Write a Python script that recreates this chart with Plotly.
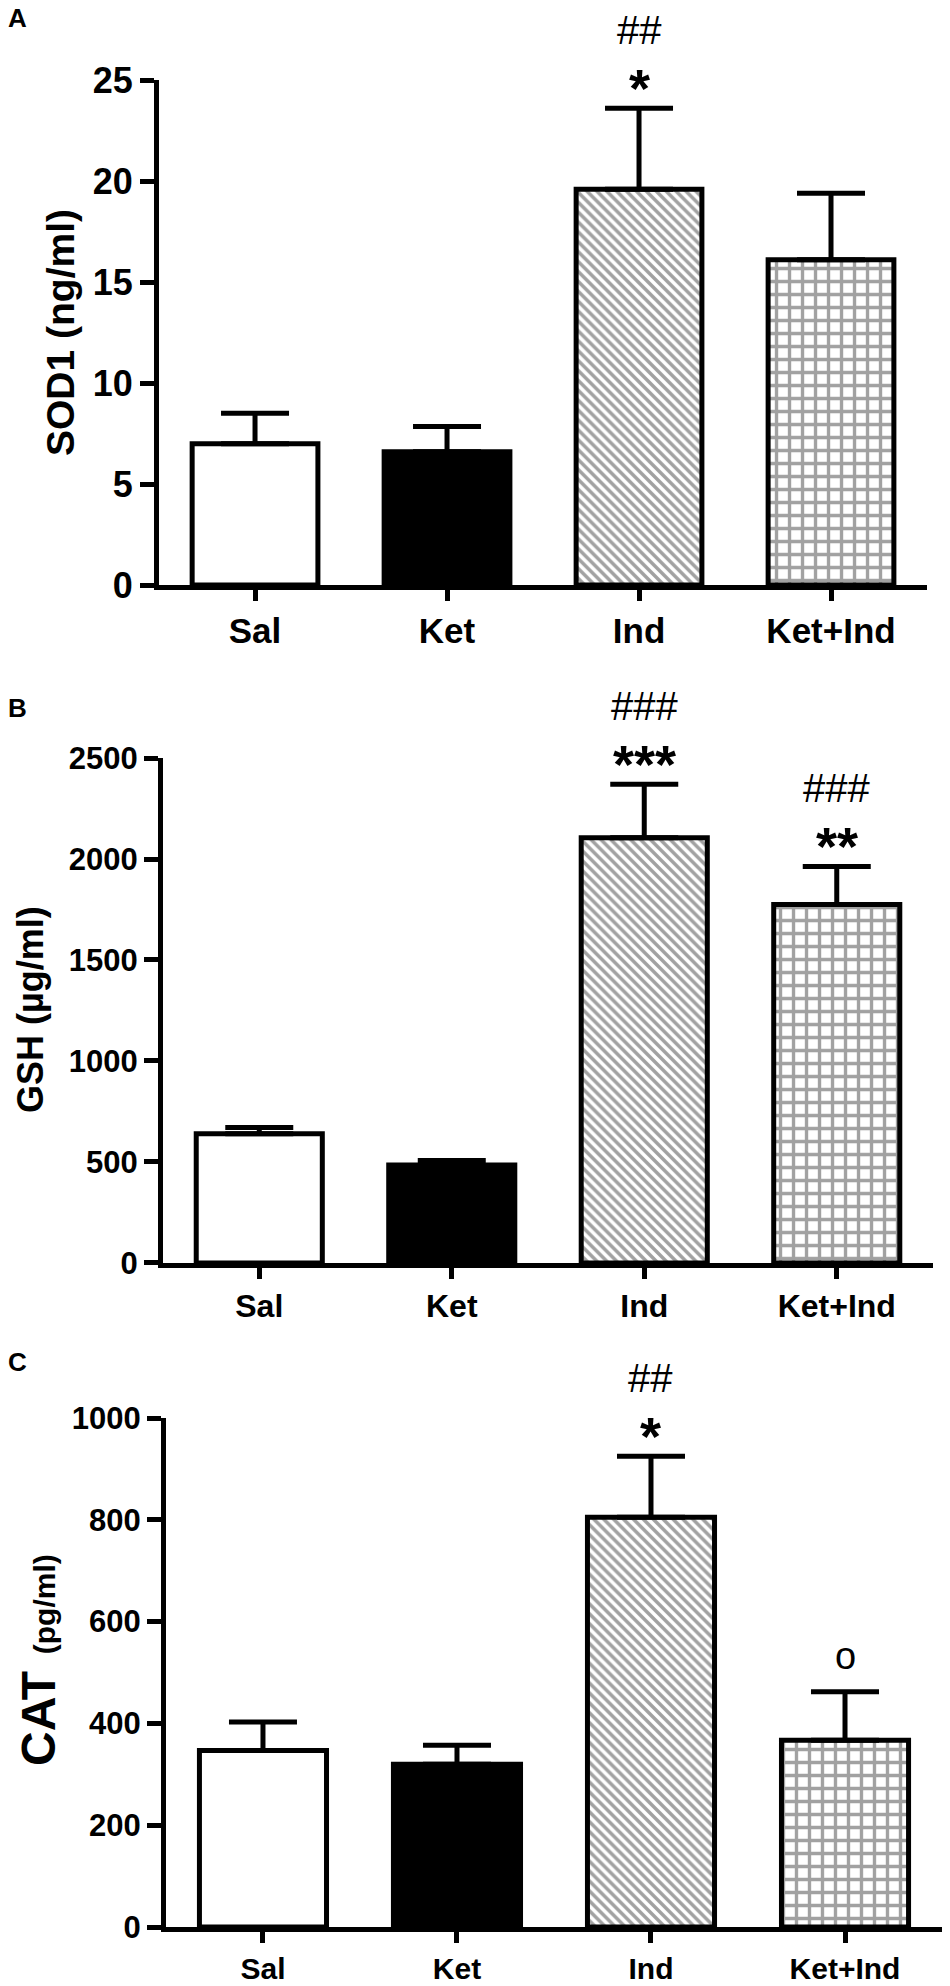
import plotly.graph_objects as go

# Group names on the x axis.
groups = ["Sal", "Ket", "Ind", "Ket+Ind"]

# Panel A: SOD1 (ng/ml), mean and upper error.
sod1_mean = [7.0, 6.6, 19.6, 16.1]
sod1_err = [1.5, 1.25, 4.0, 3.3]
sod1_star = ["", "", "*", ""]
sod1_hash = ["", "", "##", ""]

# Panel B: GSH (µg/ml).
gsh_mean = [640, 485, 2105, 1775]
gsh_err = [30, 22, 265, 188]
gsh_star = ["", "", "***", "**"]
gsh_hash = ["", "", "###", "###"]

# Panel C: CAT (pg/ml).
cat_mean = [347, 320, 805, 367]
cat_err = [56, 37, 120, 95]
cat_star = ["", "", "*", "o"]
cat_hash = ["", "", "##", ""]

FONT = "Liberation Sans, Arial, sans-serif"
fills = ["white", "black", "white", "white"]
shapes = ["", "", "\\", "+"]

panels = [
    # mean, err, stars, hashes, y range, dtick, x domain, y domain, font sizes
    (sod1_mean, sod1_err, sod1_star, sod1_hash, [0, 25], 5,
     [0.1674, 0.9758], [0.7054, 0.9597], 36, 35),
    (gsh_mean, gsh_err, gsh_star, gsh_hash, [0, 2500], 500,
     [0.1716, 0.9821], [0.3641, 0.6183], 31, 32),
    (cat_mean, cat_err, cat_star, cat_hash, [0, 1000], 200,
     [0.1747, 0.9916], [0.0297, 0.2860], 31, 30),
]

fig = go.Figure()
annotations = []

for i, (mean, err, star, hsh, yr, dt, xd, yd, yfs, xfs) in enumerate(panels, start=1):
    xa = "x" if i == 1 else f"x{i}"
    ya = "y" if i == 1 else f"y{i}"
    fig.add_trace(go.Bar(
        x=groups, y=mean, xaxis=xa, yaxis=ya, width=0.655,
        marker=dict(color=fills, line=dict(color="black", width=5),
                    pattern=dict(shape=shapes, fgcolor="black",
                                 bgcolor="white", size=[7, 7, 7, 13],
                                 solidity=[0.3, 0.3, 0.5, 0.45])),
        error_y=dict(type="data", symmetric=False, array=err,
                     arrayminus=[0] * len(err), color="black",
                     thickness=5, width=34),
        showlegend=False, hoverinfo="skip"))

    # Significance marks above the error bars.
    for g, m, e, s, h in zip(groups, mean, err, star, hsh):
        if s:
            is_circle = s == "o"
            annotations.append(dict(
                x=g, y=m + e, xref=xa, yref=ya, text=s, showarrow=False,
                yanchor="middle", yshift=36 if is_circle else 20,
                font=dict(family=FONT, size=38 if is_circle else 54,
                          color="black",
                          weight="normal" if is_circle else "bold")))
        if h:
            annotations.append(dict(
                x=g, y=m + e, xref=xa, yref=ya, text=h, showarrow=False,
                yanchor="middle", yshift=78,
                font=dict(family=FONT, size=40, color="black")))

    axis_common = dict(showline=True, linecolor="black", linewidth=5,
                       ticks="outside", tickcolor="black", tickwidth=5,
                       showgrid=False, zeroline=False, automargin=False)
    fig.update_layout({
        ("xaxis" if i == 1 else f"xaxis{i}"): dict(
            domain=xd, anchor=ya, range=[-0.5, 3.5], ticklen=11,
            tickfont=dict(family=FONT, size=xfs, color="black",
                          weight="bold"),
            **axis_common),
        ("yaxis" if i == 1 else f"yaxis{i}"): dict(
            domain=yd, anchor=xa, range=yr, dtick=dt, ticklen=14,
            tickfont=dict(family=FONT, size=yfs, color="black",
                          weight="bold"),
            **axis_common),
    })

# Y axis titles and panel letters.
titles = [
    ("SOD1 (ng/ml)", 60, 333, 39),
    ("GSH (µg/ml)", 30, 1010, 36),
    ("<span style='font-size:48px'>CAT</span>  (pg/ml)", 38, 1660, 30),
]
for text, px_x, px_y, size in titles:
    annotations.append(dict(
        text=text, xref="paper", yref="paper", x=px_x / 950,
        y=1 - px_y / 1986, xanchor="center", yanchor="middle",
        textangle=-90, showarrow=False,
        font=dict(family=FONT, size=size, color="black", weight="bold")))

for letter, px_y in zip(["A", "B", "C"], [18, 708, 1362]):
    annotations.append(dict(
        text=letter, xref="paper", yref="paper", x=17 / 950,
        y=1 - px_y / 1986, xanchor="center", yanchor="middle",
        showarrow=False,
        font=dict(family=FONT, size=26, color="black", weight="bold")))

fig.update_layout(width=950, height=1986, annotations=annotations,
                  margin=dict(l=0, r=0, t=0, b=0),
                  paper_bgcolor="white", plot_bgcolor="white",
                  bargap=0.3)

# Drop the page margin so the figure fills the window exactly.
fig.write_html("out.html", config={"displayModeBar": False},
               post_script="document.body.style.margin='0px';"
                           "document.body.style.overflow='hidden';")
